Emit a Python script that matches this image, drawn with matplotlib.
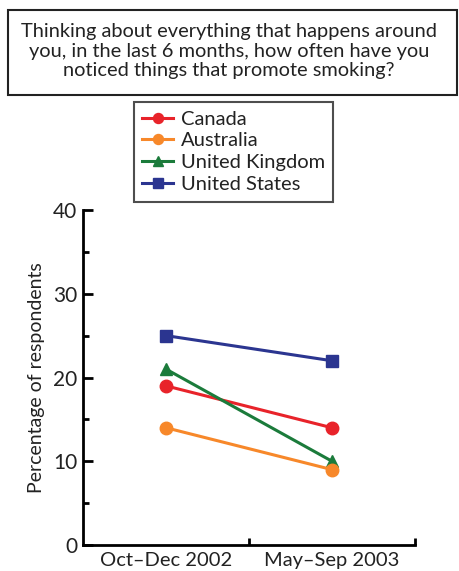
import matplotlib
matplotlib.use("Agg")
import matplotlib.pyplot as plt
from matplotlib.patches import Rectangle
from matplotlib.ticker import MultipleLocator, FixedLocator

periods = ["Oct\u2013Dec 2002", "May\u2013Sep 2003"]
countries = ["Canada", "Australia", "United Kingdom", "United States"]
canada = [19, 14]
australia = [14, 9]
united_kingdom = [21, 10]
united_states = [25, 22]

plt.rcParams["font.family"] = ["Lato", "DejaVu Sans"]

W, H = 459, 571
fig = plt.figure(figsize=(W / 100, H / 100), dpi=100)

# axes box in pixel coords: left 83, right 415, top 210, bottom 545
ax = fig.add_axes([83 / W, 1 - 545 / H, (415 - 83) / W, (545 - 210) / H])

styles = {
    "Canada": dict(color="#e8232a", marker="o"),
    "Australia": dict(color="#f7882a", marker="o"),
    "United Kingdom": dict(color="#1b7b3b", marker="^"),
    "United States": dict(color="#2b3590", marker="s"),
}
series = {"Canada": canada, "Australia": australia,
          "United Kingdom": united_kingdom, "United States": united_states}
zorders = {"Canada": 3, "United Kingdom": 4, "Australia": 5, "United States": 6}

x = list(range(len(periods)))
handles = []
for name in countries:
    st = styles[name]
    h, = ax.plot(x, series[name], color=st["color"], marker=st["marker"],
                 markersize=9, linewidth=2.2, label=name, zorder=zorders[name],
                 clip_on=False)
    handles.append(h)

ax.set_xlim(-0.5, 1.5)
ax.set_ylim(0, 40)
for side in ["top", "right"]:
    ax.spines[side].set_visible(False)
for side in ["left", "bottom"]:
    ax.spines[side].set_linewidth(2)

ax.yaxis.set_major_locator(MultipleLocator(10))
ax.yaxis.set_minor_locator(MultipleLocator(5))
ax.tick_params(axis="y", which="major", direction="in", length=7, width=2,
               labelsize=15, pad=4, labelcolor="#222222")
ax.tick_params(axis="y", which="minor", direction="in", length=4, width=2)

ax.xaxis.set_major_locator(FixedLocator(x))
ax.set_xticklabels(periods)
ax.xaxis.set_minor_locator(FixedLocator([0.5, 1.5]))
ax.tick_params(axis="x", which="major", length=0, labelsize=14.5, pad=5,
               labelcolor="#222222")
ax.tick_params(axis="x", which="minor", direction="in", length=5, width=2)

ax.set_ylabel("Percentage of respondents", fontsize=14, labelpad=6,
              color="#222222")

# question box
fig.patches.append(Rectangle((8 / W, 1 - 95 / H), (457 - 8) / W, (95 - 10) / H,
                             transform=fig.transFigure, fill=False,
                             edgecolor="#222222", linewidth=1.5))
fig.text(229 / W, 1 - 51 / H,
         "Thinking about everything that happens around\n"
         "you, in the last 6 months, how often have you\n"
         "noticed things that promote smoking?",
         ha="center", va="center", fontsize=14.4, linespacing=1.2,
         color="#222222")

leg = fig.legend(handles=handles, loc="upper left",
                 bbox_to_anchor=(134 / W, 1 - 102 / H), fontsize=14.5,
                 frameon=True, fancybox=False, edgecolor="#222222",
                 handlelength=1.5, handletextpad=0.4, labelspacing=0.24,
                 borderpad=0.42, borderaxespad=0, markerscale=0.8)
leg.get_frame().set_linewidth(1.5)
for t in leg.get_texts():
    t.set_color("#222222")

fig.savefig("out.png", dpi=100)
